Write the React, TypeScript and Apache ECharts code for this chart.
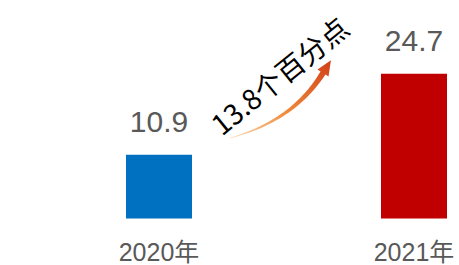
import React, { useEffect, useRef } from "react";
import * as echarts from "echarts";

const categories = ["2020年", "2021年"];
const values = [10.9, 24.7];
const barColors = ["#0070C0", "#C00000"];
const annotation = "13.8个百分点";

function arrowPoints(ox: number, oy: number): number[][] {
  const P0 = [0, 80];
  const C = [63, 63];
  const B = [93, 15];
  const N = 30;
  const left: number[][] = [];
  const right: number[][] = [];
  for (let i = 0; i <= N; i++) {
    const t = i / N;
    const a = (1 - t) * (1 - t), b = 2 * (1 - t) * t, c = t * t;
    const px = a * P0[0] + b * C[0] + c * B[0];
    const py = a * P0[1] + b * C[1] + c * B[1];
    const dx = 2 * (1 - t) * (C[0] - P0[0]) + 2 * t * (B[0] - C[0]);
    const dy = 2 * (1 - t) * (C[1] - P0[1]) + 2 * t * (B[1] - C[1]);
    const len = Math.hypot(dx, dy);
    const nx = -dy / len, ny = dx / len;
    const w = 0.3 + 2.6 * t;
    left.push([ox + px + nx * w, oy + py + ny * w]);
    right.push([ox + px - nx * w, oy + py - ny * w]);
  }
  const dxB = B[0] - C[0], dyB = B[1] - C[1];
  const lB = Math.hypot(dxB, dyB);
  const ux = dxB / lB, uy = dyB / lB;
  const nx = -uy, ny = ux;
  const hw = 6.5, hl = 15;
  const head = [
    [ox + B[0] + nx * hw, oy + B[1] + ny * hw],
    [ox + B[0] + ux * hl, oy + B[1] + uy * hl],
    [ox + B[0] - nx * hw, oy + B[1] - ny * hw],
  ];
  return [...left, ...head, ...right.reverse()];
}

export default function App() {
  const ref = useRef<HTMLDivElement>(null);
  useEffect(() => {
    if (!ref.current) return;
    const chart = echarts.init(ref.current, null, { renderer: "svg" });
    chart.setOption({
      animation: false,
      backgroundColor: "#ffffff",
      grid: { left: 159, right: 45, top: 42.7, bottom: 46.5, containLabel: false },
      xAxis: {
        type: "category",
        data: categories,
        boundaryGap: false,
        axisLine: { show: false },
        axisTick: { show: false },
        splitLine: { show: false },
        axisLabel: {
          color: "#595959",
          fontSize: 25,
          fontFamily: "Liberation Sans, Noto Sans CJK SC, sans-serif",
          margin: 21,
        },
      },
      yAxis: { type: "value", min: 0, max: 30, show: false, splitLine: { show: false } },
      series: [
        {
          type: "bar",
          clip: false,
          barWidth: 66,
          data: values.map((v, i) => ({ value: v, itemStyle: { color: barColors[i] } })),
          label: {
            show: true,
            position: "top",
            distance: 18,
            color: "#595959",
            fontSize: 30,
            fontFamily: "Liberation Sans, sans-serif",
          },
        },
      ],
      graphic: [
        {
          type: "polygon",
          shape: { points: arrowPoints(230, 58) },
          style: {
            fill: new echarts.graphic.LinearGradient(0, 1, 1, 0, [
              { offset: 0, color: "#FCD9B3" },
              { offset: 0.45, color: "#F08A3A" },
              { offset: 1, color: "#D2401A" },
            ]),
          },
        },
        {
          type: "text",
          x: 279,
          y: 75,
          rotation: (39 * Math.PI) / 180,
          style: {
            text: annotation,
            fill: "#000000",
            fontSize: 28,
            fontFamily: "Noto Sans CJK SC, sans-serif",
            align: "center",
            verticalAlign: "middle",
          },
        },
      ],
    });
    return () => chart.dispose();
  }, []);
  return (
    <div
      ref={ref}
      style={{ width: 459, height: 265, position: "absolute", left: 0, top: 0 }}
    />
  );
}
